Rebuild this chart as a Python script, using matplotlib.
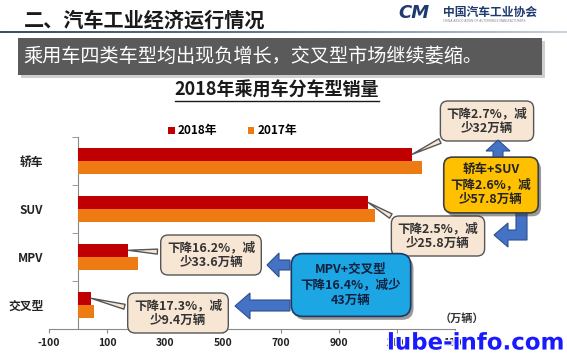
import matplotlib
matplotlib.use('Agg')
import matplotlib.pyplot as plt
import matplotlib.patches as patches
import matplotlib.patheffects as pe
from matplotlib.transforms import Affine2D
import numpy as np

plt.rcParams['font.family'] = ['Noto Sans CJK SC', 'DejaVu Sans']

# 數據
categories = ['轿车', 'SUV', 'MPV', '交叉型']
sales_2018 = [1152.8, 999.5, 173.5, 45.0]
sales_2017 = [1184.8, 1025.3, 207.1, 54.4]
series_names = ['2018年', '2017年']
xtick_values = [-100, 100, 300, 500, 700, 900, 1100, 1300]
xtick_labels = ['-100', '100', '300', '500', '700', '900', '1100', '1300']
callout_texts = ['下降2.7%，减\n少32万辆', '下降2.5%，减\n少25.8万辆',
                 '下降16.2%，减\n少33.6万辆', '下降17.3%，减\n少9.4万辆']
sum_texts = ['轿车+SUV\n下降2.6%，减\n少57.8万辆', 'MPV+交叉型\n下降16.4%，减少\n43万辆']

W, H = 567, 355
fig = plt.figure(figsize=(W / 100, H / 100), dpi=100)
fig.patch.set_facecolor('white')
# 像素坐標(左上為原點)
px = Affine2D().scale(1 / W, -1 / H).translate(0, 1) + fig.transFigure

# ===== 頁眉 =====
fig.text(24, 20, '二、汽车工业经济运行情况', transform=px, fontsize=14.5,
         weight='heavy', color='#1a1a1a', ha='left', va='center')
fig.text(398, 13, 'CM', transform=px, fontsize=13, weight='bold', style='italic',
         color='#1F3A6E', ha='left', va='center', family='DejaVu Sans')
fig.text(443, 12, '中国汽车工业协会', transform=px, fontsize=8.5, weight='bold',
         color='#1F3A6E', ha='left', va='center')
fig.text(443, 21, 'CHINA ASSOCIATION OF AUTOMOBILE MANUFACTURERS', transform=px,
         fontsize=2.2, color='#7a8a9a', ha='left', va='center', family='DejaVu Sans')

# 漸變分隔線
line_ax = fig.add_axes([0, 1 - 33 / H, 1, 2.5 / H])
grad = np.linspace(0, 1, 256).reshape(1, -1)
line_ax.imshow(grad, aspect='auto', cmap=matplotlib.colors.LinearSegmentedColormap.from_list(
    'g', ['#3d4e60', '#6a7c8e', '#c8d4de']))
line_ax.axis('off')

# 深灰色橫條
fig.add_artist(patches.Rectangle((21, 41), 524, 37, transform=px, facecolor='#cfcfcf',
                                 edgecolor='none', zorder=1))
fig.add_artist(patches.Rectangle((18, 38), 524, 37, transform=px, facecolor='#5a5a5a',
                                 edgecolor='none', zorder=2))
fig.text(23, 56, '乘用车四类车型均出现负增长，交叉型市场继续萎缩。', transform=px,
         fontsize=13.8, color='white', ha='left', va='center', zorder=3)

# 圖表標題（帶下劃線）
title = fig.text(277, 90, '2018年乘用车分车型销量', transform=px, fontsize=13,
                 weight='bold', color='#1a1a1a', ha='center', va='center')

# ===== 條形圖 =====
ax = fig.add_axes([49 / W, 1 - 329 / H, 406 / W, 192 / H])
y = np.arange(len(categories))
bh = 0.28
ax.barh(y - bh / 2, sales_2018, height=bh, color='#C00000', label=series_names[0], zorder=3)
ax.barh(y + bh / 2, sales_2017, height=bh, color='#EE7A14', label=series_names[1], zorder=3)

ax.set_xlim(-100, 1300)
ax.set_ylim(len(categories) - 0.5, -0.5)
for s in ['top', 'right']:
    ax.spines[s].set_visible(False)
ax.spines['left'].set_position(('data', 0))
ax.spines['left'].set_color('#8a8a8a')
ax.spines['bottom'].set_color('#8a8a8a')

ax.set_yticks(y)
ax.set_yticklabels(categories, fontsize=8.5, weight='bold', color='#222222')
ax.set_yticks(np.arange(len(categories) + 1) - 0.5, minor=True)
ax.tick_params(axis='y', which='major', length=0, pad=25)
ax.tick_params(axis='y', which='minor', length=4, color='#8a8a8a', direction='out')

ax.set_xticks(xtick_values)
ax.set_xticklabels(xtick_labels, fontsize=7.5, weight='bold', color='#222222')
ax.tick_params(axis='x', length=3, color='#8a8a8a', direction='out', pad=3.5)

ax.legend(loc='center', bbox_to_anchor=(0.41, 1 - 131 / H), bbox_transform=fig.transFigure,
          ncol=2, frameon=False, handlelength=0.55, handleheight=0.55, handletextpad=0.25,
          columnspacing=2.6, prop={'size': 8.5, 'weight': 'bold'})

fig.text(462, 318, '（万辆）', transform=px, fontsize=8, weight='bold', color='#333333',
         ha='center', va='center')

# ===== 標注框 =====
box_style = dict(boxstyle='round,pad=0.5,rounding_size=0.6', facecolor='#F8E6D4',
                 edgecolor='#555555', linewidth=1.0)
callout_pos = [(487, 121), (438, 236), (211, 255), (178, 313)]
callout_rel = [(0.15, 0.1), (0.1, 0.9), (0.05, 0.6), (0.05, 0.6)]
for i, txt in enumerate(callout_texts):
    ax.annotate(txt, xy=(sales_2018[i], y[i] - bh / 2), xycoords='data',
                xytext=callout_pos[i], textcoords=px, ha='center', va='center',
                fontsize=9, weight='bold', color='#333333', linespacing=1.15,
                bbox=box_style, annotation_clip=False, zorder=6,
                arrowprops=dict(arrowstyle='wedge,tail_width=0.4,shrink_factor=0.5',
                                facecolor='#F8E6D4', edgecolor='#555555', linewidth=1.0,
                                relpos=callout_rel[i], shrinkB=0))

shadow = [pe.withSimplePatchShadow(offset=(2, -2.5), shadow_rgbFace='#333333', alpha=0.5)]

# 藍色箭頭
arrow_kw = dict(transform=px, facecolor='#4472C4', edgecolor='#2F4F8F', linewidth=0.8, zorder=4)
fig.add_artist(patches.Polygon([(493, 162), (493, 151), (486, 151), (498, 140), (510, 151),
                                (503, 151), (503, 162)], **arrow_kw))
fig.add_artist(patches.Polygon([(516, 208), (527, 208), (527, 240), (508, 240), (508, 247),
                                (494, 235), (508, 223), (508, 230), (516, 230)], **arrow_kw))
fig.add_artist(patches.Polygon([(290, 260), (279, 260), (279, 253), (267, 265), (279, 277),
                                (279, 270), (290, 270)], **arrow_kw))
fig.add_artist(patches.Polygon([(290, 300), (250, 300), (250, 293), (235, 306), (250, 319),
                                (250, 311), (290, 311)], **arrow_kw))

t1 = fig.text(491, 185, sum_texts[0], transform=px, fontsize=9, weight='bold',
              color='#222222', ha='center', va='center', linespacing=1.15, zorder=7,
              bbox=dict(boxstyle='round,pad=0.55,rounding_size=0.7', facecolor='#FFC000',
                        edgecolor='#404040', linewidth=1.2))
t1.get_bbox_patch().set_path_effects(shadow)
t2 = fig.text(351, 285, sum_texts[1], transform=px, fontsize=9, weight='bold',
              color='#10203F', ha='center', va='center', linespacing=1.25, zorder=7,
              bbox=dict(boxstyle='round,pad=0.75,rounding_size=0.9', facecolor='#1CA6E3',
                        edgecolor='#1F3864', linewidth=1.2))
t2.get_bbox_patch().set_path_effects(shadow)

# 水印
fig.text(564, 343, 'lube-info.com', transform=px, fontsize=16.5, weight='bold',
         color='#1a1aff', ha='right', va='center', family='DejaVu Sans', zorder=10,
         path_effects=[pe.withStroke(linewidth=2, foreground='white')])

# 標題下劃線
fig.canvas.draw()
bb = title.get_window_extent()
yline = bb.y0 - 1
fig.add_artist(plt.Line2D([bb.x0, bb.x1], [yline, yline], transform=None,
                          color='#1a1a1a', linewidth=1.0))

fig.savefig('out.png', dpi=100)
